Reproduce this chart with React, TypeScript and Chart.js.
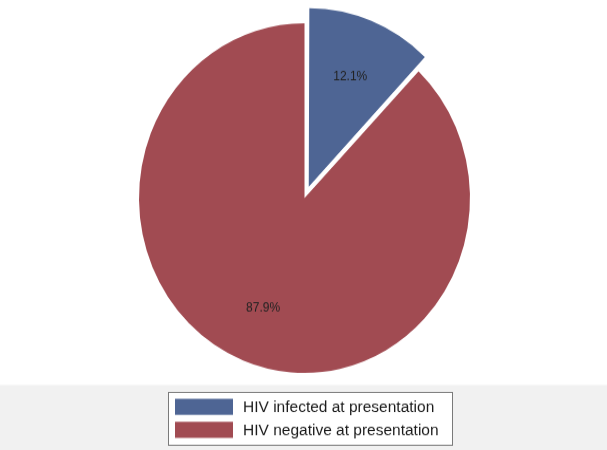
import React, { useEffect, useRef } from "react";
import Chart from "chart.js/auto";

const categories: string[] = ["HIV infected at presentation", "HIV negative at presentation"];
const values: number[] = [12.1, 87.9];
const sliceColors: string[] = ["#4e6594", "#a14b52"];
// Chart.js 4 moves an arc by offset / 4 pixels
const explode: number[] = [46, 0];

const W = 607;
const H = 426;
const SY = 450 / 426;

const overlayPlugin = {
  id: "overlay",
  afterDraw(chart: any) {
    const ctx = chart.ctx;
    const meta = chart.getDatasetMeta(0);
    ctx.save();
    ctx.fillStyle = "#222222";
    ctx.font = "12px 'Liberation Sans', Arial, sans-serif";
    ctx.textAlign = "center";
    ctx.textBaseline = "middle";
    meta.data.forEach((arc: any, i: number) => {
      const p = arc.getProps(["x", "y", "startAngle", "endAngle", "outerRadius"], true);
      const mid = (p.startAngle + p.endAngle) / 2;
      const off = (arc.options.offset || 0) / 4;
      const d = p.outerRadius * 0.675 + off;
      const tx = p.x + Math.cos(mid) * d;
      const ty = p.y + Math.sin(mid) * d;
      ctx.fillText(values[i].toFixed(1) + "%", tx, ty);
    });
    ctx.restore();

    ctx.save();
    ctx.fillStyle = "#f1f1f1";
    ctx.fillRect(0, 364.5, W, H - 364.5);
    ctx.fillStyle = "#ffffff";
    ctx.fillRect(168, 371, 284, 50);
    ctx.strokeStyle = "#7a7a7a";
    ctx.lineWidth = 1;
    ctx.strokeRect(168.5, 371.5, 284, 50);
    ctx.font = "15.5px 'Liberation Sans', Arial, sans-serif";
    ctx.textAlign = "left";
    ctx.textBaseline = "middle";
    categories.forEach((label, i) => {
      const top = 377.5 + i * 21.8;
      ctx.fillStyle = sliceColors[i];
      ctx.fillRect(175, top, 58, 15.2);
      ctx.fillStyle = "#1c1c1c";
      ctx.fillText(label, 243, top + 8);
    });
    ctx.restore();
  },
};

export default function App() {
  const ref = useRef<HTMLCanvasElement | null>(null);
  useEffect(() => {
    if (!ref.current) return;
    const chart = new Chart(ref.current, {
      type: "pie",
      data: {
        labels: categories,
        datasets: [
          {
            data: values,
            backgroundColor: sliceColors,
            borderWidth: 0,
            offset: explode,
          },
        ],
      },
      options: {
        responsive: false,
        animation: false,
        radius: 165.5,
        layout: { padding: { left: 2, right: 0, top: 10, bottom: 61 } },
        plugins: {
          legend: { display: false },
          tooltip: { enabled: false },
        },
      } as any,
      plugins: [overlayPlugin],
    });
    return () => chart.destroy();
  }, []);
  return (
    <div style={{ position: "fixed", left: 0, top: 0, width: W, height: 450, overflow: "hidden", background: "#ffffff" }}>
      <div style={{ width: W, height: H, transform: `scaleY(${SY})`, transformOrigin: "top left" }}>
        <canvas ref={ref} width={W} height={H} />
      </div>
    </div>
  );
}
